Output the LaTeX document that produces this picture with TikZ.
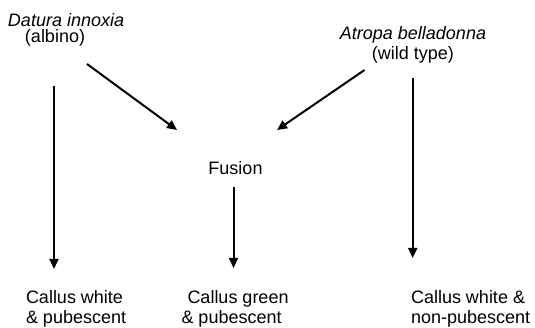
\documentclass[tikz,border=0pt]{standalone}
\usepackage{fontspec}
\setmainfont{Liberation Sans}
\usetikzlibrary{arrows.meta}
\begin{document}
\begin{tikzpicture}[x=1pt,y=-1pt,
  lbl/.style={inner sep=0pt, outer sep=0pt, font=\fontsize{18}{20}\selectfont},
  flow/.style={line width=2pt, -{Triangle[length=10pt,width=9pt]}}]
\useasboundingbox[fill=white] (0,0) rectangle (535,328);

% parent lines
\node[lbl, anchor=north west, align=left, font=\fontsize{18}{16.5}\selectfont] (datura) at (8,13)
  {\textit{Datura innoxia}\\\hspace*{17pt}(albino)};
\node[lbl, anchor=north, align=center] (atropa) at (413,26.5)
  {\textit{Atropa belladonna}\\(wild type)};

% somatic hybrid
\node[lbl, anchor=north] (fusion) at (235.5,161.5) {Fusion};

% callus phenotypes
\node[lbl, anchor=north west, align=left] (cwhite) at (26,290)
  {Callus white\\\& pubescent};
\node[lbl, anchor=north west, align=left] (cgreen) at (181.5,290)
  {\hspace*{6pt}Callus green\\\& pubescent};
\node[lbl, anchor=north west, align=left] (cnonpub) at (411,290)
  {Callus white \&\\non-pubescent};

% arrow end points
\coordinate (dL) at (54,86);
\coordinate (dLe) at (54,269);
\coordinate (dD) at (87,64);
\coordinate (dDe) at (177,130);
\coordinate (aD) at (364.5,70);
\coordinate (aDe) at (277,130);
\coordinate (aR) at (412.7,78);
\coordinate (aRe) at (412.7,258);
\coordinate (fT) at (233.5,187);
\coordinate (fTe) at (233.5,268);

\draw[flow] (dL) -- (dLe);
\draw[flow] (dD) -- (dDe);
\draw[flow] (aD) -- (aDe);
\draw[flow] (aR) -- (aRe);
\draw[flow] (fT) -- (fTe);
\end{tikzpicture}
\end{document}
